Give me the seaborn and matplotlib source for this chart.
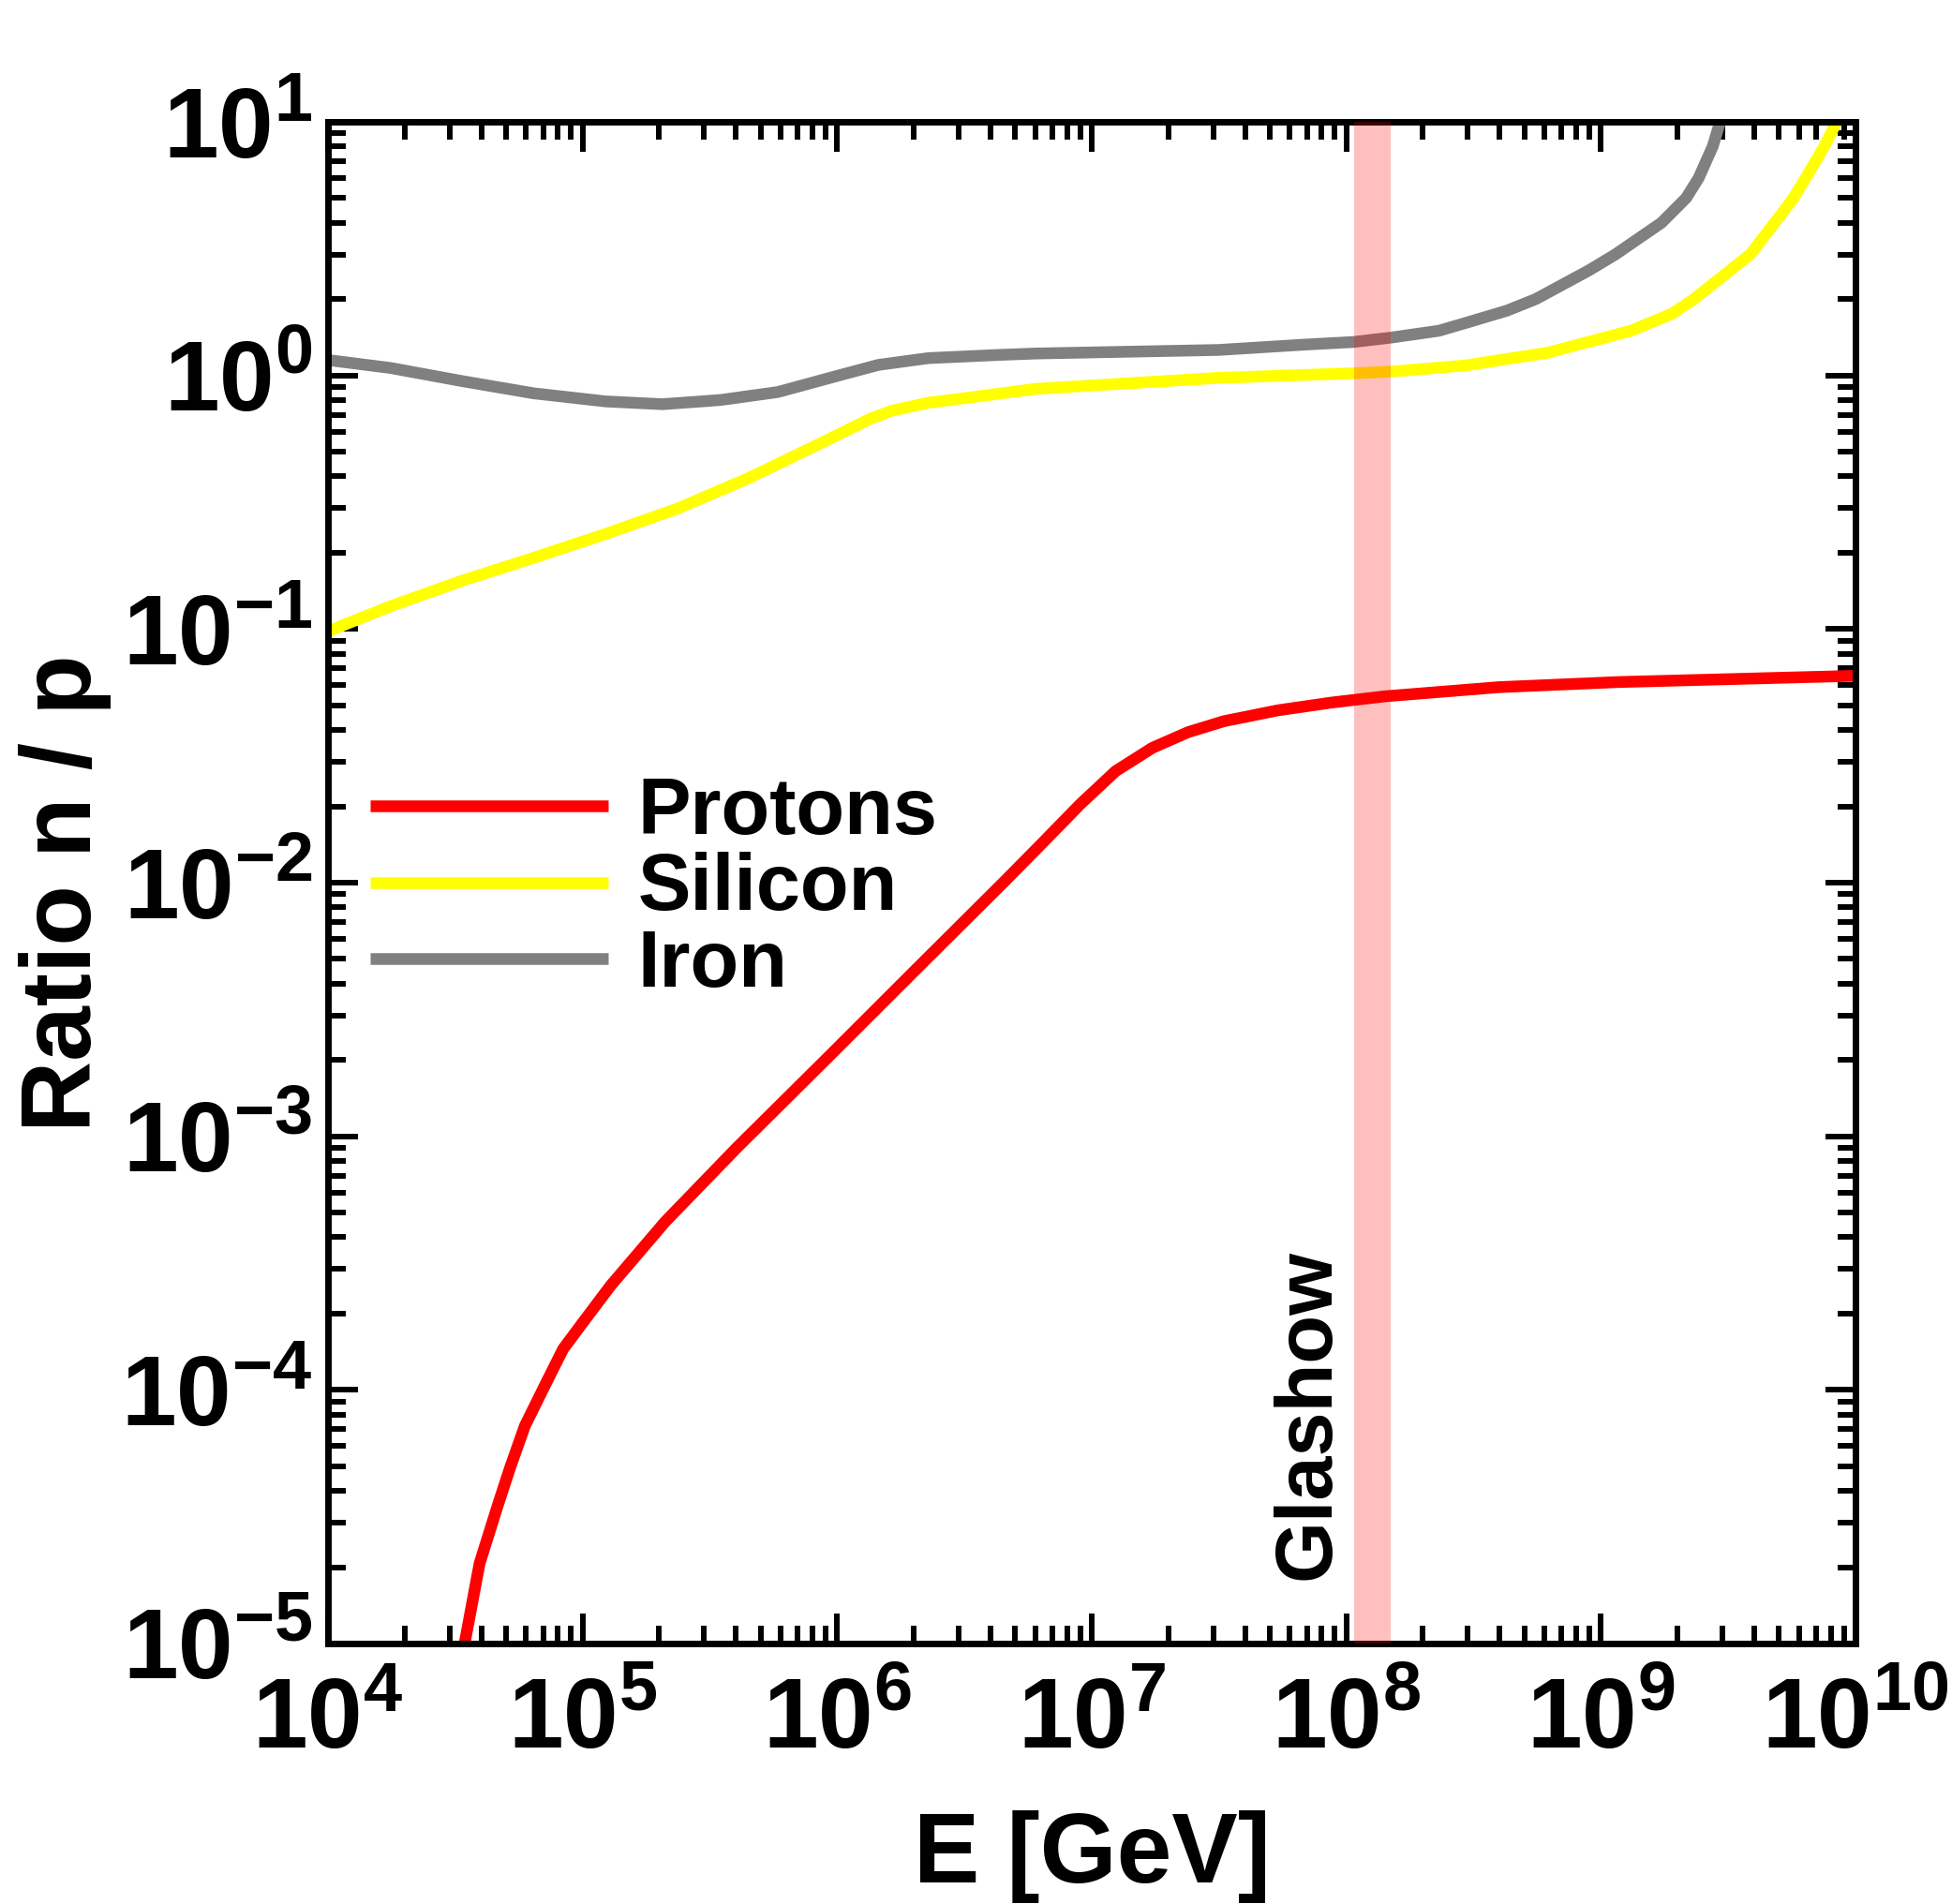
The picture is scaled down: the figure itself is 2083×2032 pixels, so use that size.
import numpy as np
import pandas as pd
import seaborn as sns
import matplotlib
matplotlib.use("Agg")
import matplotlib.pyplot as plt
from matplotlib.ticker import LogLocator, FuncFormatter, NullFormatter

# DATE (E in GeV, raport n/p)
protons_E = [3.30e4, 3.44e4, 3.94e4, 4.63e4, 5.18e4, 5.93e4, 7.14e4, 8.39e4, 9.93e4,
             1.29e5, 2.11e5, 4.03e5, 9.08e5, 2.05e6, 4.58e6, 6.21e6, 9.02e6, 1.24e7,
             1.73e7, 2.39e7, 3.30e7, 5.38e7, 8.75e7, 1.42e8, 3.98e8, 1.17e9, 1.0e10]
protons_r = [7.9e-6, 1.0e-5, 2.07e-5, 3.47e-5, 4.9e-5, 7.2e-5, 1.05e-4, 1.45e-4, 1.82e-4,
             2.58e-4, 4.6e-4, 9.0e-4, 2.02e-3, 4.57e-3, 1.02e-2, 1.39e-2, 2.04e-2, 2.75e-2,
             3.40e-2, 3.92e-2, 4.33e-2, 4.78e-2, 5.13e-2, 5.43e-2, 5.90e-2, 6.18e-2, 6.54e-2]

silicon_E = [1.0e4, 1.76e4, 3.36e4, 6.43e4, 1.23e5, 2.35e5, 4.50e5, 8.61e5, 1.35e6,
             1.64e6, 2.28e6, 3.15e6, 6.01e6, 3.14e7, 1.07e8, 1.50e8, 2.94e8, 6.19e8,
             1.31e9, 1.90e9, 2.32e9, 3.86e9, 4.82e9, 5.70e9, 6.37e9, 7.55e9, 8.43e9, 8.91e9]
silicon_r = [0.098, 0.123, 0.155, 0.191, 0.237, 0.298, 0.394, 0.54, 0.675,
             0.726, 0.78, 0.813, 0.885, 0.978, 1.02, 1.035, 1.095, 1.23,
             1.50, 1.75, 2.0, 3.0, 4.0, 5.0, 6.0, 8.0, 10.0, 11.0]

iron_E = [1.0e4, 1.76e4, 3.36e4, 6.43e4, 1.23e5, 2.06e5, 3.48e5, 5.85e5, 9.79e5,
          1.45e6, 2.28e6, 4.35e6, 6.01e6, 3.14e7, 6.61e7, 1.07e8, 1.50e8, 2.31e8, 2.94e8,
          4.27e8, 5.55e8, 9.0e8, 1.14e9, 1.73e9, 2.16e9, 2.42e9, 2.75e9, 2.94e9, 3.09e9]
iron_r = [1.15, 1.07, 0.95, 0.85, 0.79, 0.77, 0.80, 0.86, 0.99,
          1.10, 1.17, 1.205, 1.22, 1.26, 1.32, 1.355, 1.41, 1.50, 1.61,
          1.80, 2.0, 2.6, 3.0, 4.0, 5.0, 6.0, 8.0, 10.0, 11.0]

glashow_band = [1.07e8, 1.49e8]

serii = [("Protons", protons_E, protons_r, "#ff0000"),
         ("Silicon", silicon_E, silicon_r, "#ffff00"),
         ("Iron", iron_E, iron_r, "#808080")]

sns.set_style("ticks")
plt.rcParams['font.family'] = ['Liberation Sans', 'DejaVu Sans']
plt.rcParams['font.weight'] = 'bold'
plt.rcParams['text.color'] = 'black'
plt.rcParams['axes.labelcolor'] = 'black'
plt.rcParams['xtick.color'] = 'black'
plt.rcParams['ytick.color'] = 'black'
plt.rcParams['mathtext.fontset'] = 'custom'
plt.rcParams['mathtext.rm'] = 'Liberation Sans:bold'
plt.rcParams['mathtext.bf'] = 'Liberation Sans:bold'
plt.rcParams['mathtext.it'] = 'Liberation Sans:bold'
plt.rcParams['mathtext.default'] = 'rm'

fig = plt.figure(figsize=(20.83, 20.32), dpi=100)
ax = fig.add_axes([350 / 2083, 1 - 1754 / 2032, 1630 / 2083, 1624 / 2032])

# LINII
for nume, E, r, culoare in serii:
    df = pd.DataFrame({"E": E, "r": r})
    sns.lineplot(data=df, x="E", y="r", color=culoare, lw=9, label=nume,
                 estimator=None, sort=False, ax=ax, zorder=2,
                 solid_capstyle="butt", solid_joinstyle="round")

# BANDA GLASHOW
ax.axvspan(glashow_band[0], glashow_band[1], color="red", alpha=0.25, lw=0, zorder=3)
ax.text(8.6e7, 10 ** -4.75, "Glashow", rotation=90, rotation_mode="anchor",
        ha="left", va="baseline", fontsize=61, fontweight="bold", zorder=4)

ax.set_xscale("log")
ax.set_yscale("log")
ax.set_xlim(1e4, 1e10)
ax.set_ylim(1e-5, 1e1)

fmt = FuncFormatter(lambda v, p: r"$10^{%d}$" % int(round(np.log10(v))))
ax.xaxis.set_major_locator(LogLocator(base=10, numticks=20))
ax.yaxis.set_major_locator(LogLocator(base=10, numticks=20))
ax.xaxis.set_minor_locator(LogLocator(base=10, subs=np.arange(2, 10), numticks=100))
ax.yaxis.set_minor_locator(LogLocator(base=10, subs=np.arange(2, 10), numticks=100))
ax.xaxis.set_major_formatter(fmt)
ax.yaxis.set_major_formatter(fmt)
ax.xaxis.set_minor_formatter(NullFormatter())
ax.yaxis.set_minor_formatter(NullFormatter())

ax.tick_params(which="both", direction="in", top=True, right=True, color="black")
ax.tick_params(which="major", length=23, width=4.3, labelsize=76, labelcolor="black")
ax.tick_params(axis="y", which="major", pad=12)
ax.tick_params(axis="x", which="major", pad=25)
ax.tick_params(which="minor", length=14, width=4.3)
for s in ax.spines.values():
    s.set_linewidth(5)
    s.set_color("black")

ax.set_xlabel("E [GeV]", fontsize=76, fontweight="bold", color="black")
ax.set_ylabel("Ratio n / p", fontsize=76, fontweight="bold", color="black")
ax.xaxis.set_label_coords(0.5, -0.1096)
ax.yaxis.set_label_coords(-0.1417, 0.493)

ax.legend(loc="center left", bbox_to_anchor=(0.0276, 0.4955), frameon=False,
          fontsize=61, handlelength=3.0, handletextpad=0.37, labelspacing=0.02,
          borderpad=0, borderaxespad=0)

fig.savefig("out.png", dpi=100)
